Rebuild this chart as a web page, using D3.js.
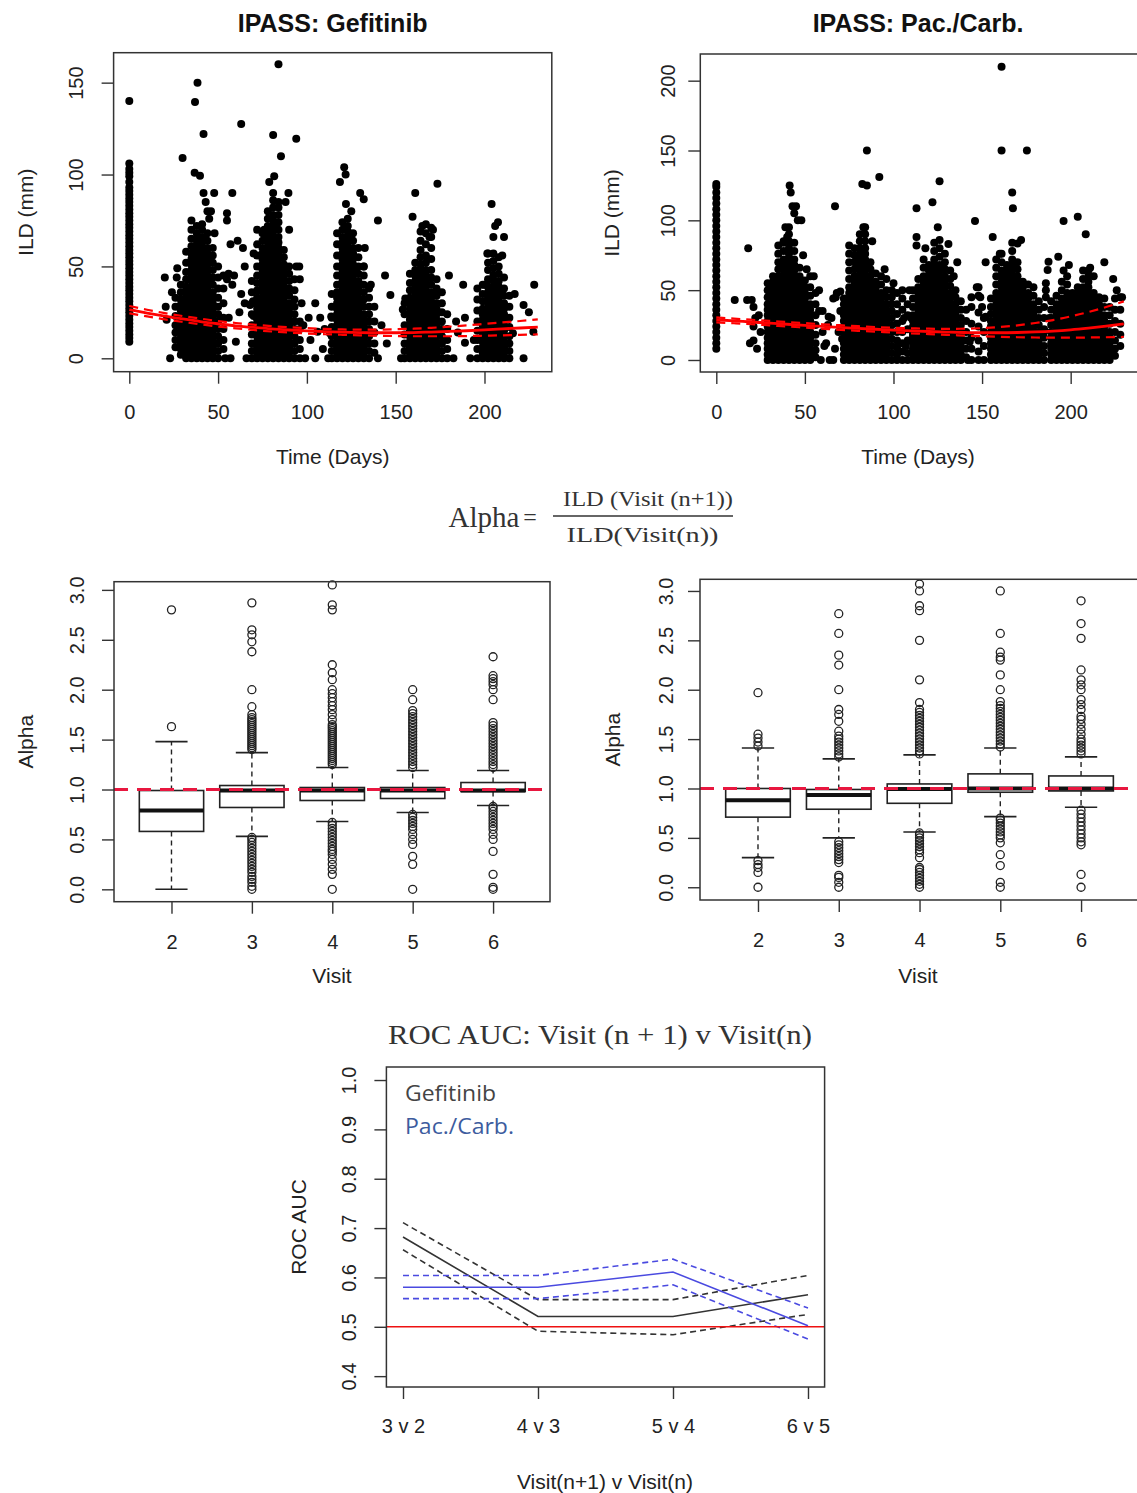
<!DOCTYPE html>
<html><head><meta charset="utf-8">
<script src="https://cdn.jsdelivr.net/npm/d3@7/dist/d3.min.js"></script>
<style>body{margin:0;background:#fff;overflow:hidden}</style>
</head><body>
<svg id="c" width="1137" height="1493" xmlns="http://www.w3.org/2000/svg"></svg>
<script>
// ---------------- DATA ----------------
// Scatter: IPASS Gefitinib  (day, ILD mm)
const gefDay0 = [9,11,13,15,17,19,21,23,25,27,29,31,33,35,37,39,41,43,45,47,49,51,53,55,57,59,61,63,65,67,69,71,73,75,77,79,81,83,85,87,89,91,93,96,99,101,103,106,140];
const gefCols = [
 [26,[6,10,14,18,23,28,33]],
 [29,[2,5,8,11,14,17,20,23,26,29,32,36,40]],
 [32,[0,3,6,9,12,15,18,21,24,27,30,33,36,39,43,47,52,58]],
 [35,[0,3,6,9,12,15,18,21,24,27,30,33,36,39,42,45,48,51,54,57,61,65,70,75]],
 [38,[0,2,5,8,11,14,17,20,23,26,29,32,35,38,41,44,47,50,53,56,59,62,65,68,72]],
 [41,[0,3,6,9,12,15,18,21,24,27,30,33,36,39,42,45,48,51,54,57,60,63,66,70,73]],
 [44,[0,3,6,9,12,15,18,21,24,27,30,33,36,39,42,45,48,51,54,57,60,64,68]],
 [47,[0,3,6,9,12,15,18,21,24,27,30,33,36,40,44,48,52,56,60]],
 [50,[0,4,8,12,16,20,24,28,33,38,44,50]],
 [53,[5,10,16,22,30,38,45]],
 [69,[0,4,8,13,18,24,30,36,42]],
 [72,[0,3,6,9,12,15,18,21,24,27,30,33,37,41,45,50,56,62,70]],
 [75,[0,3,6,9,12,15,18,21,24,27,30,33,36,39,42,45,48,51,54,57,60,64,68]],
 [78,[0,3,6,9,12,15,18,21,24,27,30,33,36,39,42,45,48,51,54,57,60,63,66,69,72,76,80]],
 [81,[0,3,6,9,12,15,18,21,24,27,30,33,36,39,42,45,48,51,54,57,60,63,66,69,72,75,78,82,86,90]],
 [84,[0,3,6,9,12,15,18,21,24,27,30,33,36,39,42,45,48,51,54,57,60,63,66,70,74,78,82,85]],
 [87,[0,3,6,9,12,15,18,21,24,27,30,33,36,39,42,45,48,51,55,59]],
 [90,[0,3,6,9,12,15,18,21,24,27,30,34,38,42,46,50]],
 [93,[0,4,8,12,16,20,24,28,32,37,43]],
 [96,[0,5,10,16,20]],
 [114,[0,4,8,12,17,22,28,35]],
 [117,[0,3,6,9,12,15,18,21,24,27,30,33,36,40,45,50,56,62,68]],
 [120,[0,3,6,9,12,15,18,21,24,27,30,33,36,39,42,45,48,51,54,57,60,63,66,70,74]],
 [123,[0,3,6,9,12,15,18,21,24,27,30,33,36,39,42,45,48,51,54,57,60,63,66,69,72,76]],
 [126,[0,3,6,9,12,15,18,21,24,27,30,33,36,39,42,45,48,51,54,57,60,64,68]],
 [129,[0,3,6,9,12,15,18,21,24,27,30,33,36,39,42,46,50,55,60]],
 [132,[0,3,6,9,12,15,18,21,24,28,32,36,40,45,50]],
 [135,[0,4,8,12,16,20,24,28,33,38]],
 [138,[3,8,14,20]],
 [155,[0,4,8,13,18,24,30]],
 [158,[0,3,6,9,12,15,18,21,24,27,30,33,37,41,46]],
 [161,[0,3,6,9,12,15,18,21,24,27,30,33,36,39,42,45,48,52]],
 [164,[0,3,6,9,12,15,18,21,24,27,30,33,36,39,42,45,48,51,55,59,64,69]],
 [167,[0,3,6,9,12,15,18,21,24,27,30,33,36,39,42,45,48,52,56,62,68,73]],
 [170,[0,3,6,9,12,15,18,21,24,27,30,33,36,40,44,48,54,60,66,71]],
 [173,[0,3,6,9,12,15,18,21,24,27,30,34,38,43]],
 [176,[0,4,8,12,16,20,25,30,36]],
 [179,[0,5,10,16,24]],
 [196,[0,5,10,15,20,26,32,38]],
 [199,[0,3,6,9,12,15,18,21,24,27,31,35,40]],
 [202,[0,3,6,9,12,15,18,21,24,27,30,33,36,39,43,48,52,57]],
 [205,[0,3,6,9,12,15,18,21,24,27,30,33,36,39,42,45,49,53,57]],
 [208,[0,3,6,9,12,15,18,21,24,27,30,33,36,39,42,46,50,55]],
 [211,[0,3,6,9,12,15,18,21,24,27,30,34,38,44]],
 [214,[0,4,8,12,17,22,28,34]]
];
const gefExtra = [
 [21,21],[20.5,28],[20,44],[23,0],[26.7,44],[27,49],[24,36],[30,109],[38.4,150],[37,139.5],[41.8,122],[36.8,101],[39.8,99.4],
 [41.8,90],[43,85],[47.8,90],[44,80],[46,80],[45,76],[48,68],[55,79],[55,75],[58,90],[57,62],[61,64],[64,60],[65,50],[63,35],
 [65,30],[68,29],[70,23],[60,9],[56,22],[58,40],[59,45],[57,0],[54,0],[62,25],[66,0],[55.9,46],[55,43],[63,127.5],[70,57],[69.7,31],
 [81,121.5],[84,160],[85.4,110],[94,119.5],[81.6,99],[78.8,96],[89.6,90],[88,85],[90,70],[94,50],[96,43],[95.7,50],[98,18],[97,30],[76,70],
 [99,0],[104.7,0],[112,0],[104.7,30],[107.5,22],[106,14.5],[113.7,22.7],[113,13.6],[102,10],[109,5],[110,16],[101,22],
 [121,104],[121.8,100],[118.6,96],[130,90],[132,86.5],[122,84],[125,80],[140,75],[144,45],[147,34.5],[140,0],[132.6,60],[136,40],[142,18],[145,8],[138,28],[132,50],
 [161,90],[159.5,77],[173.5,95],[180,45],[182.5,0],[155.4,32.6],[153,0],[165,72],[171,70],[169,66],[185,14],[184,20],[154,26.6],
 [204,84],[207.6,74],[206,72],[205,66],[211,66],[201.6,57],[200,40],[188,40],[189,22],[189,8.5],[222,29],[225,25],[228,40],[227.5,14.5],[222,0],[216,13.6],[217,35],[210,56],[192,0],[194,10]
];
// Scatter: IPASS Pac./Carb.
const pacDay0 = [8,12,16,20,24,28,32,36,40,44,48,52,56,60,64,68,72,76,80,84,88,92,96,100,104,108,112,116,120,124,126];
const pacCols = [
 [29,[0,4,8,12,16,20,24,28,32,36,40,45,50,55]],
 [32,[0,4,8,12,16,20,24,28,32,36,40,44,48,52,56,60]],
 [35,[0,4,8,12,16,20,24,28,32,36,40,44,48,52,56,60,65,70,76,82]],
 [38,[0,4,8,12,16,20,24,28,32,36,40,44,48,52,56,60,64,68,72,78,84]],
 [41,[0,4,8,12,16,20,24,28,32,36,40,44,48,52,56,60,64,68,72,76,80,85,90,95]],
 [44,[0,4,8,12,16,20,24,28,32,36,40,44,48,52,56,60,64,68,72,78,84]],
 [47,[0,4,8,12,16,20,24,28,32,36,40,44,48,52,56,60,66]],
 [50,[0,4,8,12,16,20,24,28,32,36,40,44,48,52,57]],
 [53,[0,4,8,12,16,20,24,28,32,36,40,46,52,60]],
 [56,[2,7,12,18,25,32,40,48]],
 [72,[0,4,8,12,16,20,24,28,32,36,40,44]],
 [75,[0,4,8,12,16,20,24,28,32,36,40,44,48,52,58,64,70,76,82]],
 [78,[0,4,8,12,16,20,24,28,32,36,40,44,48,52,56,60,65,70,75,80]],
 [81,[0,4,8,12,16,20,24,28,32,36,40,44,48,52,56,60,64,68,72,76,80,85,90]],
 [84,[0,4,8,12,16,20,24,28,32,36,40,44,48,52,56,60,64,68,72,76,80,85,90,95]],
 [87,[0,4,8,12,16,20,24,28,32,36,40,44,48,52,56,60,65,70]],
 [90,[0,4,8,12,16,20,24,28,32,36,40,44,48,52,56,62]],
 [93,[0,4,8,12,16,20,24,28,32,36,40,44,48,54,60]],
 [96,[0,4,8,12,16,20,24,28,32,36,40,45,50,58]],
 [99,[0,5,10,15,20,25,30,35,40,45,50]],
 [102,[0,4,9,14,20,26,33,40,48]],
 [105,[0,6,12,20,28,36,44,50]],
 [108,[0,5,14,22,32,40]],
 [111,[0,4,8,12,16,20,24,28,32,38,44,50]],
 [114,[0,4,8,12,16,20,24,28,32,36,40,44,48,52,58]],
 [117,[0,4,8,12,16,20,24,28,32,36,40,44,48,52,56,60,66,72]],
 [120,[0,4,8,12,16,20,24,28,32,36,40,44,48,52,56,60,64,68]],
 [123,[0,4,8,12,16,20,24,28,32,36,40,44,48,52,56,60,64,68,72,78,84]],
 [126,[0,4,8,12,16,20,24,28,32,36,40,44,48,52,56,60,64,68,74,80,86]],
 [129,[0,4,8,12,16,20,24,28,32,36,40,44,48,52,56,60,65,70,76]],
 [132,[0,4,8,12,16,20,24,28,32,36,40,44,48,53,58,64]],
 [135,[0,4,8,12,16,20,24,28,32,36,40,45,50]],
 [138,[0,4,8,12,16,20,25,30,36,42]],
 [141,[2,8,14,20,28,36]],
 [144,[0,8,16,26,38,45]],
 [148,[0,6,14,24,34,46,52]],
 [151,[0,10,20,30]],
 [155,[0,4,8,12,16,20,24,28,33,38,44]],
 [158,[0,4,8,12,16,20,24,28,32,36,40,44,48,54,60,66,72]],
 [161,[0,4,8,12,16,20,24,28,32,36,40,44,48,52,56,60,64,70,76]],
 [164,[0,4,8,12,16,20,24,28,32,36,40,44,48,52,56,60,64,68]],
 [167,[0,4,8,12,16,20,24,28,32,36,40,44,48,52,56,60,64,68,72,78,84]],
 [170,[0,4,8,12,16,20,24,28,32,36,40,44,48,52,56,60,65,70]],
 [173,[0,4,8,12,16,20,24,28,32,36,40,44,48,52,56]],
 [176,[0,4,8,12,16,20,24,28,32,36,40,44,48,54]],
 [179,[0,4,8,12,16,20,24,28,32,36,40,46,52]],
 [182,[0,4,8,12,16,20,25,30,36,42]],
 [185,[0,5,10,16,22,30,38]],
 [189,[0,4,8,12,16,20,25,30,36,42]],
 [192,[0,4,8,12,16,20,24,28,32,36,40,46]],
 [195,[0,4,8,12,16,20,24,28,32,36,40,44,50,56]],
 [198,[0,4,8,12,16,20,24,28,32,36,40,44,48,54,60]],
 [201,[0,4,8,12,16,20,24,28,32,36,40,44,48]],
 [204,[0,4,8,12,16,20,24,28,32,36,40,44,48,52]],
 [207,[0,4,8,12,16,20,24,28,32,36,40,44,48,52,58,64]],
 [210,[0,4,8,12,16,20,24,28,32,36,40,44,48,52,56,60,64]],
 [213,[0,4,8,12,16,20,24,28,32,36,40,44,48]],
 [216,[0,4,8,12,16,20,24,28,32,36,40,45]],
 [219,[0,4,8,12,16,20,24,28,32,38,44]],
 [222,[0,4,8,12,16,20,26,32,38]],
 [225,[3,8,14,20,28,36,44]],
 [228,[10,18,26,36,45]]
];
const pacExtra = [
 [10.4,43],[17.4,43],[18,80],[20,43],[21,14],[21,24],[21,38],[22,30],[25,20],[24,32],[23,8],[19,12],
 [41.4,125],[42,120],[43,110],[45,110],[46,100],[48,100],[44,105],[39,95],[40,88],[49,75],[51,65],[55,60],[58,50],[58,35],[60,20],[61,10],[59,0],[38,85],
 [62,12],[64,0],[66,0],[67,110],[66,44],[68,48],[65,30],[70,35],[69,20],[63,25],[67,8],[71,15],[60,35],[67.4,45],[70,49],[63.4,31],
 [85,150],[82.4,126],[85,125],[92,131],[83,95],[88,85],[95,65],[100,55],[106,30],[107,10],[110,30],[109,50],[111,18],
 [126,128],[122,113],[113,108.6],[113,88],[113,82],[118,80],[125,95],[131,83],[136,70],[134,60],[146,99.5],[147,52],[149,45],[150,38],[143,13],[152,31],[142,0],
 [161,210],[161,150],[175.3,150],[167,120],[167.4,108.6],[156,88],[170,83.5],[172,86],[160,76],[152,70],[186,45],[188,30],[186,55],
 [196,99.5],[204,102.6],[208.5,90],[187.5,70.4],[193,74],[219,70],[187,64.4],[196,64],[199,68],[211,66],[213,60],[224,58],[226,50],[229,45],[186,50],[185,20]
];
// Fitted curves (day grid)
const fitDays = [0,10,20,30,40,50,60,70,80,90,100,110,120,130,140,150,160,170,180,190,200,210,220,230];
const gefFit   = [26.5,24.6,22.9,21.4,20.0,18.8,17.7,16.8,16.0,15.4,14.9,14.5,14.2,14.0,13.9,13.9,14.0,14.3,14.6,15.0,15.5,16.0,16.5,17.0];
const gefFitHi = [28.5,26.4,24.6,23.0,21.6,20.3,19.2,18.3,17.5,16.9,16.4,16.0,15.7,15.6,15.6,15.8,16.1,16.6,17.2,17.9,18.7,19.5,20.3,21.2];
const gefFitLo = [24.5,22.8,21.2,19.8,18.5,17.3,16.3,15.4,14.6,14.0,13.5,13.1,12.8,12.5,12.3,12.1,12.0,12.0,12.0,12.1,12.3,12.5,12.8,13.0];
const pacFit   = [28.8,28.0,27.2,26.4,25.6,24.8,24.0,23.3,22.6,22.0,21.4,20.9,20.4,20.0,19.7,19.5,19.5,19.7,20.1,20.7,21.6,22.8,24.2,25.8];
const pacFitHi = [30.5,29.6,28.8,28.0,27.2,26.4,25.6,24.9,24.2,23.6,23.1,22.7,22.4,22.3,22.4,22.8,23.6,24.8,26.5,28.6,31.2,34.3,37.9,42.0];
const pacFitLo = [27.0,26.3,25.6,24.8,24.0,23.2,22.4,21.6,20.9,20.3,19.7,19.1,18.5,18.0,17.5,17.0,16.6,16.3,16.1,16.0,16.0,16.1,16.3,16.5];
const dayTicks = [0,50,100,150,200];
const gefYTicks = [0,50,100,150];
const pacYTicks = [0,50,100,150,200];

// Box plots of Alpha by visit: [lowWhisker, Q1, median, Q3, highWhisker]
const visits = ["2","3","4","5","6"];
const gefBox = [[0.0,0.58,0.79,0.99,1.48],[0.53,0.82,0.99,1.04,1.37],[0.68,0.89,0.99,1.02,1.22],[0.77,0.91,0.99,1.02,1.19],[0.84,0.98,0.99,1.07,1.19]];
const gefOutHi = [
 [1.63,2.8],
 [1.40,1.42,1.44,1.46,1.48,1.50,1.52,1.54,1.56,1.58,1.60,1.62,1.64,1.66,1.68,1.70,1.72,1.75,1.83,2.0,2.38,2.48,2.55,2.6,2.87],
 [1.25,1.27,1.29,1.31,1.33,1.35,1.37,1.39,1.41,1.43,1.45,1.47,1.49,1.51,1.53,1.55,1.57,1.59,1.61,1.63,1.65,1.70,1.75,1.80,1.84,1.88,1.92,1.96,2.0,2.1,2.17,2.25,2.8,2.85,3.05],
 [1.22,1.25,1.28,1.31,1.34,1.37,1.40,1.43,1.46,1.49,1.52,1.55,1.58,1.61,1.64,1.67,1.70,1.73,1.76,1.79,1.9,2.0],
 [1.22,1.25,1.28,1.31,1.34,1.37,1.40,1.43,1.46,1.49,1.52,1.55,1.58,1.61,1.64,1.67,1.9,2.0,2.05,2.08,2.11,2.14,2.33]
];
const gefOutLo = [
 [],
 [0.0,0.03,0.07,0.10,0.13,0.17,0.20,0.23,0.26,0.29,0.32,0.35,0.38,0.41,0.44,0.47,0.50,0.52],
 [0.0,0.15,0.2,0.25,0.3,0.35,0.38,0.40,0.43,0.46,0.49,0.52,0.55,0.58,0.61,0.64,0.67],
 [0.0,0.25,0.33,0.45,0.50,0.55,0.60,0.63,0.66,0.69,0.72,0.75],
 [0.0,0.02,0.15,0.38,0.50,0.55,0.60,0.63,0.66,0.69,0.72,0.75,0.78,0.81,0.83]
];
const pacBox = [[0.30,0.71,0.88,1.0,1.41],[0.50,0.79,0.935,0.99,1.30],[0.56,0.85,0.995,1.046,1.34],[0.715,0.962,1.0,1.148,1.41],[0.81,0.975,1.0,1.127,1.32]];
const pacOutHi = [
 [1.43,1.47,1.51,1.55,1.97],
 [1.32,1.35,1.38,1.41,1.44,1.47,1.50,1.53,1.58,1.68,1.75,1.80,2.0,2.25,2.35,2.57,2.77],
 [1.35,1.38,1.41,1.44,1.47,1.50,1.53,1.56,1.59,1.62,1.65,1.68,1.71,1.74,1.77,1.80,1.87,2.1,2.5,2.8,2.85,3.0,3.07],
 [1.42,1.45,1.48,1.51,1.54,1.57,1.60,1.63,1.66,1.69,1.72,1.75,1.78,1.81,1.84,1.88,2.0,2.15,2.3,2.33,2.38,2.57,3.0],
 [1.35,1.38,1.41,1.44,1.47,1.50,1.55,1.60,1.65,1.70,1.73,1.80,1.85,1.90,2.0,2.05,2.1,2.2,2.52,2.67,2.9]
];
const pacOutLo = [
 [0.0,0.15,0.2,0.23,0.27],
 [0.0,0.05,0.10,0.12,0.25,0.28,0.31,0.34,0.37,0.40,0.43,0.46],
 [0.0,0.03,0.06,0.09,0.12,0.15,0.18,0.20,0.30,0.35,0.38,0.41,0.44,0.47,0.50,0.53,0.55],
 [0.0,0.05,0.22,0.33,0.45,0.50,0.53,0.56,0.59,0.62,0.65,0.68,0.70],
 [0.0,0.13,0.43,0.46,0.50,0.54,0.58,0.62,0.66,0.70,0.74,0.78]
];
const alphaTicks = [0,0.5,1,1.5,2,2.5,3];

// ROC AUC
const rocCats = ["3 v 2","4 v 3","5 v 4","6 v 5"];
const gefAuc   = [0.682,0.521,0.521,0.565];
const gefAucHi = [0.711,0.555,0.555,0.604];
const gefAucLo = [0.656,0.491,0.484,0.525];
const pacAuc   = [0.580,0.580,0.611,0.502];
const pacAucHi = [0.604,0.604,0.637,0.538];
const pacAucLo = [0.557,0.557,0.585,0.475];
const rocTicks = [0.4,0.5,0.6,0.7,0.8,0.9,1.0];

// ---------------- DRAWING ----------------
const svg = d3.select("#c");
const SANS = "'Liberation Sans', Arial, Helvetica, sans-serif";
const SERIF = "'Liberation Serif', 'DejaVu Serif', serif";

function frame(x0,x1,y0,y1){
  svg.append("rect").attr("x",x0).attr("y",y0).attr("width",x1-x0).attr("height",y1-y0)
    .attr("fill","none").attr("stroke","#333").attr("stroke-width",1.5);
}
function axisStyle(s){
  s.attr("font-size",20).attr("font-family",SANS);
  s.select(".domain").remove();
  s.selectAll(".tick line").attr("stroke","#333").attr("stroke-width",1.4);
  s.selectAll(".tick text").attr("fill","#222");
}
function bottomAxis(xs,y,vals,fmt,pad){
  const a = d3.axisBottom(xs).tickValues(vals).tickSize(12).tickSizeOuter(0).tickPadding(pad);
  if(fmt) a.tickFormat(fmt);
  const s = svg.append("g").attr("transform",`translate(0,${y})`).call(a);
  axisStyle(s);
}
function leftAxis(ys,x,vals,fmt,off){
  const a = d3.axisLeft(ys).tickValues(vals).tickSize(12).tickSizeOuter(0);
  if(fmt) a.tickFormat(fmt);
  const s = svg.append("g").attr("transform",`translate(${x},0)`).call(a);
  axisStyle(s);
  s.selectAll(".tick text").attr("x",0).attr("y",-off).attr("dy","0.36em")
    .attr("text-anchor","middle").attr("transform","rotate(-90)");
}
function label(txt,x,y,opt={}){
  const t = svg.append("text").attr("x",x).attr("y",y).attr("text-anchor",opt.anchor||"middle")
    .attr("dominant-baseline","central").attr("font-family",opt.family||SANS)
    .attr("font-size",opt.size||21).attr("fill",opt.fill||"#222").text(txt);
  if(opt.bold) t.attr("font-weight","bold");
  if(opt.rot) t.attr("transform",`rotate(-90,${x},${y})`);
  if(opt.len) t.attr("textLength",opt.len).attr("lengthAdjust","spacingAndGlyphs");
  return t;
}

function scatterPanel(c){
  const xs = d3.scaleLinear().domain(c.xDom).range([c.x0,c.x1]);
  const ys = d3.scaleLinear().domain(c.yDom).range([c.y1,c.y0]);
  const pts = c.day0.map(v=>[0,v])
    .concat(c.cols.flatMap(([d,vals])=>vals.map(v=>[d,v])))
    .concat(c.extra);
  svg.append("g").selectAll("circle").data(pts).join("circle")
    .attr("cx",d=>xs(d[0])).attr("cy",d=>ys(d[1])).attr("r",4).attr("fill","#000");
  const line = d3.line().x((d,i)=>xs(c.days[i])).y(d=>ys(d)).curve(d3.curveMonotoneX);
  [[c.hi,"9,6",2.2],[c.lo,"9,6",2.2],[c.fit,null,2.8]].forEach(([arr,dash,w])=>{
    const p = svg.append("path").attr("d",line(arr)).attr("fill","none").attr("stroke","#ff0000").attr("stroke-width",w);
    if(dash) p.attr("stroke-dasharray",dash);
  });
  frame(c.x0,c.x1,c.y0,c.y1);
  bottomAxis(xs,c.y1,dayTicks,null,21);
  leftAxis(ys,c.x0,c.yTicks,null,c.yOff);
  label(c.title,c.titleX,23,{bold:true,size:25,fill:"#111"});
  label("Time (Days)",c.titleX,456);
  label("ILD (mm)",c.ylabX,(c.y0+c.y1)/2,{rot:true});
}

scatterPanel({x0:113.6,x1:551.8,y0:52.7,y1:371.7,xDom:[-8.84,237.9],yDom:[-7.29,166.3],
  day0:gefDay0,cols:gefCols,extra:gefExtra,days:fitDays,fit:gefFit,hi:gefFitHi,lo:gefFitLo,
  yTicks:gefYTicks,yOff:38,title:"IPASS: Gefitinib",titleX:332.7,ylabX:26});
scatterPanel({x0:700.3,x1:1138,y0:54,y1:372,xDom:[-9.03,238],yDom:[-8.6,219.1],
  day0:pacDay0,cols:pacCols,extra:pacExtra,days:fitDays,fit:pacFit,hi:pacFitHi,lo:pacFitLo,
  yTicks:pacYTicks,yOff:33,title:"IPASS: Pac./Carb.",titleX:918,ylabX:611});

// Formula
label("Alpha",484,517,{family:SERIF,size:29,fill:"#333"});
label("=",530,517,{family:SERIF,size:24,fill:"#333"});
svg.append("line").attr("x1",553).attr("x2",733).attr("y1",516).attr("y2",516).attr("stroke","#333").attr("stroke-width",1.3);
label("ILD (Visit (n+1))",648,499,{family:SERIF,size:21,fill:"#333",len:170});
label("ILD(Visit(n))",642.5,535,{family:SERIF,size:21,fill:"#333",len:152});

function boxPanel(c){
  const xs = d3.scaleLinear().domain(c.xDom).range([c.x0,c.x1]);
  const ys = d3.scaleLinear().domain(c.yDom).range([c.y1,c.y0]);
  const g = svg.append("g");
  c.stats.forEach((s,i)=>{
    const k=i+1, xm=xs(k);
    g.append("line").attr("x1",xm).attr("x2",xm).attr("y1",ys(s[3])).attr("y2",ys(s[4]))
      .attr("stroke","#222").attr("stroke-width",1.4).attr("stroke-dasharray","5,4");
    g.append("line").attr("x1",xm).attr("x2",xm).attr("y1",ys(s[1])).attr("y2",ys(s[0]))
      .attr("stroke","#222").attr("stroke-width",1.4).attr("stroke-dasharray","5,4");
    [s[0],s[4]].forEach(v=>g.append("line").attr("x1",xs(k-0.2)).attr("x2",xs(k+0.2))
      .attr("y1",ys(v)).attr("y2",ys(v)).attr("stroke","#222").attr("stroke-width",1.6));
    g.append("rect").attr("x",xs(k-0.4)).attr("width",xs(k+0.4)-xs(k-0.4))
      .attr("y",ys(s[3])).attr("height",ys(s[1])-ys(s[3]))
      .attr("fill","#fff").attr("stroke","#222").attr("stroke-width",1.6);
    g.append("line").attr("x1",xs(k-0.4)).attr("x2",xs(k+0.4)).attr("y1",ys(s[2])).attr("y2",ys(s[2]))
      .attr("stroke","#111").attr("stroke-width",4);
    g.selectAll(null).data(c.outHi[i].concat(c.outLo[i])).join("circle")
      .attr("cx",xm).attr("cy",d=>ys(d)).attr("r",4).attr("fill","none")
      .attr("stroke","#222").attr("stroke-width",1.3);
  });
  svg.append("line").attr("x1",c.x0).attr("x2",c.x1).attr("y1",ys(1)).attr("y2",ys(1))
    .attr("stroke","#e8173f").attr("stroke-width",3).attr("stroke-dasharray","14,9");
  frame(c.x0,c.x1,c.y0,c.y1);
  bottomAxis(xs,c.y1,[1,2,3,4,5],i=>visits[i-1],21);
  leftAxis(ys,c.x0,alphaTicks,d3.format(".1f"),c.yOff);
  label("Visit",c.labX,975);
  label("Alpha",c.ylabX,(c.y0+c.y1)/2,{rot:true});
}
boxPanel({x0:114,x1:550,y0:581.7,y1:901.7,xDom:[0.285,5.708],yDom:[-0.124,3.082],
  stats:gefBox,outHi:gefOutHi,outLo:gefOutLo,yOff:37,labX:332,ylabX:26});
boxPanel({x0:700,x1:1138,y0:579.3,y1:900,xDom:[0.282,5.705],yDom:[-0.129,3.118],
  stats:pacBox,outHi:pacOutHi,outLo:pacOutLo,yOff:34,labX:918,ylabX:613});

// ROC panel
label("ROC AUC: Visit (n + 1) v Visit(n)",600,1035,{family:SERIF,size:27,fill:"#333",len:424});
(function(){
  const x0=386.4,x1=824.6,y0=1067,y1=1387;
  const xs = d3.scaleLinear().domain([0.877,4.123]).range([x0,x1]);
  const ys = d3.scaleLinear().domain([0.378,1.0264]).range([y1,y0]);
  const line = d3.line().x((d,i)=>xs(i+1)).y(d=>ys(d));
  const series = [
    [gefAucHi,"#333","6,4"],[gefAucLo,"#333","6,4"],[gefAuc,"#333",null],
    [pacAucHi,"#4a4ae0","6,4"],[pacAucLo,"#4a4ae0","6,4"],[pacAuc,"#4a4ae0",null]
  ];
  series.forEach(([arr,col,dash])=>{
    const p = svg.append("path").attr("d",line(arr)).attr("fill","none").attr("stroke",col).attr("stroke-width",1.6);
    if(dash) p.attr("stroke-dasharray",dash);
  });
  svg.append("line").attr("x1",x0).attr("x2",x1).attr("y1",ys(0.5)).attr("y2",ys(0.5))
    .attr("stroke","#ee1111").attr("stroke-width",1.6);
  frame(x0,x1,y0,y1);
  bottomAxis(xs,y1,[1,2,3,4],i=>rocCats[i-1],20);
  leftAxis(ys,x0,rocTicks,d3.format(".1f"),38);
  label("Visit(n+1) v Visit(n)",605,1481);
  label("ROC AUC",298,(y0+y1)/2,{rot:true});
  label("Gefitinib",405,1093,{anchor:"start",family:"'Open Sans','Noto Sans',sans-serif",size:21,fill:"#444",len:91});
  label("Pac./Carb.",405,1126,{anchor:"start",family:"'Open Sans','Noto Sans',sans-serif",size:21,fill:"#3d5c9e",len:109});
})();
</script>
</body></html>
